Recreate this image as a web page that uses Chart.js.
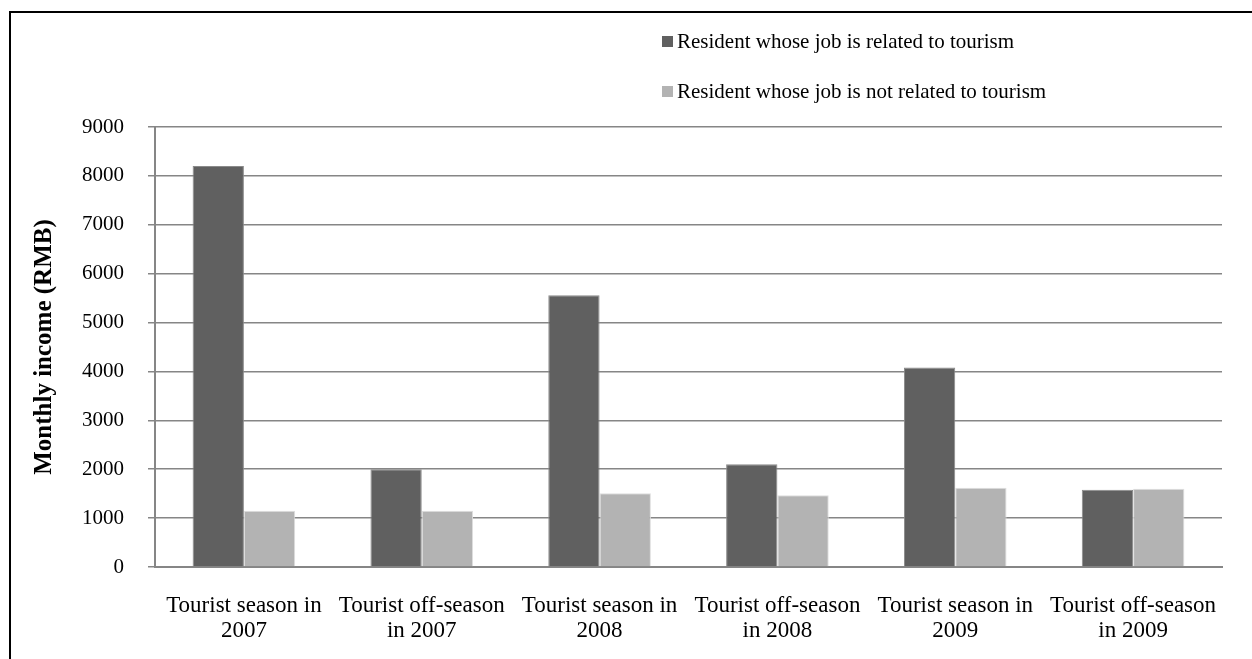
<!DOCTYPE html>
<html>
<head>
<meta charset="utf-8">
<script src="https://cdn.jsdelivr.net/npm/chart.js@4/dist/chart.umd.min.js"></script>
<style>
  html, body { margin: 0; padding: 0; background: #fff; overflow: hidden; }
  #wrap { position: relative; width: 1252px; height: 659px; }
  #frame {
    position: absolute; left: 9px; top: 11px;
    width: 1300px; height: 700px;
    border: 2px solid #000; box-sizing: border-box;
  }
  canvas { position: absolute; left: 0; top: 0; }
</style>
</head>
<body>
<div id="wrap">
  <div id="frame"></div>
  <canvas id="chart" width="1252" height="659"></canvas>
</div>
<script>
const categories = [
  ["Tourist season in", "2007"],
  ["Tourist off-season", "in 2007"],
  ["Tourist season in", "2008"],
  ["Tourist off-season", "in 2008"],
  ["Tourist season in", "2009"],
  ["Tourist off-season", "in 2009"],
];
const seriesNames = [
  "Resident whose job is related to tourism",
  "Resident whose job is not related to tourism",
];
const relatedIncome = [8200, 2000, 5560, 2100, 4080, 1580];
const notRelatedIncome = [1150, 1150, 1510, 1470, 1620, 1600];
const yTicks = [0, 1000, 2000, 3000, 4000, 5000, 6000, 7000, 8000, 9000];

const serif = "'Liberation Serif', 'Times New Roman', serif";

// legend stacked in two rows, top right
const stackedLegend = {
  id: "stackedLegend",
  afterDraw(chart) {
    const ctx = chart.ctx;
    ctx.save();
    ctx.font = "21px " + serif;
    ctx.textBaseline = "middle";
    ctx.textAlign = "left";
    chart.data.datasets.forEach((ds, i) => {
      const y = 42 + i * 50;
      ctx.fillStyle = ds.backgroundColor;
      ctx.fillRect(662, y - 6, 11, 11);
      ctx.fillStyle = "#000";
      ctx.fillText(ds.label, 677, y);
    });
    ctx.restore();
  },
};

new Chart(document.getElementById("chart"), {
  type: "bar",
  data: {
    labels: categories,
    datasets: [
      {
        label: seriesNames[0],
        data: relatedIncome,
        backgroundColor: "#606060",
        borderColor: "#8a8a8a",
        borderWidth: 1,
      },
      {
        label: seriesNames[1],
        data: notRelatedIncome,
        backgroundColor: "#b3b3b3",
        borderColor: "#dedede",
        borderWidth: 1,
      },
    ],
  },
  options: {
    responsive: false,
    animation: false,
    categoryPercentage: 0.577,
    barPercentage: 1,
    layout: { padding: { top: 127, right: 30, left: 0, bottom: 0 } },
    plugins: {
      legend: { display: false },
      tooltip: { enabled: false },
    },
    scales: {
      x: {
        grid: { display: false, drawTicks: false },
        border: { display: true, color: "#868686", width: 2 },
        ticks: {
          color: "#000",
          padding: 26,
          maxRotation: 0,
          autoSkip: false,
          font: { family: serif, size: 23, lineHeight: 1.1 },
        },
        afterFit: (scale) => { scale.height = 92; },
      },
      y: {
        min: 0,
        max: 9000,
        afterBuildTicks: (scale) => {
          scale.ticks = yTicks.map((v) => ({ value: v }));
        },
        grid: { color: "#868686", lineWidth: 1.5, tickLength: 7 },
        border: { display: true, color: "#868686", width: 2 },
        ticks: {
          color: "#000",
          padding: 24,
          font: { family: serif, size: 21 },
          callback: (value) => String(value),
        },
        title: {
          display: true,
          text: "Monthly income (RMB)",
          color: "#000",
          padding: { top: 30, bottom: 0 },
          font: { family: serif, size: 25, weight: "bold" },
        },
        afterFit: (scale) => { scale.width = 155; },
      },
    },
  },
  plugins: [stackedLegend],
});
</script>
</body>
</html>
